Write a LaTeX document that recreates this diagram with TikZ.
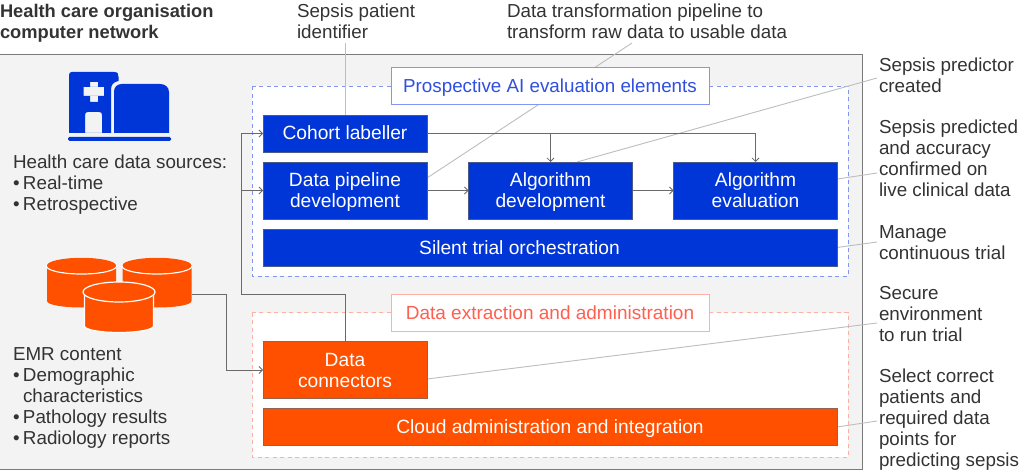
\documentclass[tikz,border=0pt]{standalone}
\usepackage{fontspec}
\setmainfont{Liberation Sans}
\usetikzlibrary{arrows.meta,backgrounds,calc}
\definecolor{panelgray}{HTML}{F3F3F3}
\definecolor{panelline}{HTML}{7A7A7A}
\definecolor{ink}{HTML}{333333}
\definecolor{aiblue}{HTML}{0035D8}
\definecolor{aibluetxt}{HTML}{2F4FE0}
\definecolor{aidash}{HTML}{8396F2}
\definecolor{emrorange}{HTML}{FF5000}
\definecolor{redtxt}{HTML}{FF5F50}
\definecolor{reddash}{HTML}{FFB0A5}
\definecolor{leader}{HTML}{BDBDBD}
\definecolor{flow}{HTML}{6A6A6A}
\newcommand{\lstr}{\rule[-6pt]{0pt}{21pt}}
\newcommand{\bstr}{\rule[-4pt]{0pt}{21pt}}
\newcommand{\bul}{\makebox[10pt][l]{•}}
\tikzset{
  x=1pt,y=-1pt,
  every node/.style={inner sep=0pt,outer sep=0pt},
  txt/.style={anchor=north west,align=left,text=ink,font=\fontsize{18.8}{21}\selectfont},
  boxtxt/.style={text=white,align=center,font=\fontsize{19.2}{21}\selectfont},
  bluebox/.style={boxtxt,fill=aiblue,draw=flow!70!aiblue,line width=.7pt},
  redbox/.style={boxtxt,fill=emrorange,draw=flow!70!emrorange,line width=.7pt},
  bluetag/.style={fill=white,draw=aidash,line width=1pt,text=aibluetxt,font=\fontsize{18.8}{21}\selectfont,minimum width=318pt,minimum height=37pt},
  redtag/.style={fill=white,draw=reddash,line width=1pt,text=redtxt,font=\fontsize{19}{21}\selectfont,minimum width=318pt,minimum height=37pt},
  bluedash/.style={fill=white,draw=aidash,line width=1pt,dash pattern=on 4pt off 3.5pt},
  reddashed/.style={fill=white,draw=reddash,line width=1pt,dash pattern=on 4pt off 3.5pt},
  leadline/.style={draw=leader,line width=.9pt},
  conn/.style={draw=flow,line width=.8pt},
  connarrow/.style={conn,-{Straight Barb[length=3.5pt,width=7pt,line width=.8pt]}},
  cyl/.style={fill=emrorange,draw=none},
  halo/.style={fill=emrorange,draw=white,line width=1.2pt},
}
\begin{document}
\begin{tikzpicture}
\useasboundingbox (0,0) rectangle (1024,470);
% boxes
\node[bluebox,minimum width=164pt,minimum height=37pt] (cohort) at (345,133.5) {\bstr Cohort labeller};
\node[bluebox,minimum width=164pt,minimum height=57pt] (pipe) at (345,190.5) {\bstr Data pipeline\\\bstr development};
\node[bluebox,minimum width=164pt,minimum height=57pt] (algdev) at (550.5,190.5) {\bstr Algorithm\\\bstr development};
\node[bluebox,minimum width=164pt,minimum height=57pt] (algeval) at (755.5,190.5) {\bstr Algorithm\\\bstr evaluation};
\node[bluebox,minimum width=574pt,minimum height=37pt] (silent) at (550,247.5) {\bstr Silent trial orchestration\hspace*{61pt}};
\node[redbox,minimum width=164pt,minimum height=57pt] (dconn) at (345,370) {\bstr Data\\\bstr connectors};
\node[redbox,minimum width=574pt,minimum height=37pt] (cloud) at (550,427) {\bstr Cloud administration and integration};
\node[bluetag] (bluelabel) at (550,86.5) {\bstr Prospective AI evaluation elements};
\node[redtag] (redlabel) at (550,312.5) {\bstr Data extraction and administration};
% outside texts
\node[anchor=north west,align=left,text=ink,font=\bfseries\fontsize{18.3}{21}\selectfont] (title) at (0,2.5) {\lstr Health care organisation\\\lstr computer network};
\node[txt] (tident) at (297,2.5) {\lstr Sepsis patient\\\lstr identifier};
\node[txt] (ttrans) at (507,2.5) {\lstr Data transformation pipeline to\\\lstr transform raw data to usable data};
\node[txt] (tpred) at (879,57) {\lstr Sepsis predictor\\\lstr created};
\node[txt] (tconf) at (879,119) {\lstr Sepsis predicted\\\lstr and accuracy\\\lstr confirmed on\\\lstr live clinical data};
\node[txt] (tmanage) at (879,223) {\lstr Manage\\\lstr continuous trial};
\node[txt] (tsecure) at (879,284) {\lstr Secure\\\lstr environment\\\lstr to run trial};
\node[txt] (tselect) at (879,367) {\lstr Select correct\\\lstr patients and\\\lstr required data\\\lstr points for\\\lstr predicting sepsis};
\node[txt] (tsources) at (13,154) {\lstr Health care data sources:\\\lstr\bul Real-time\\\lstr\bul Retrospective};
\node[txt] (temr) at (13,345) {\lstr EMR content\\\lstr\bul Demographic\\\lstr\hspace*{10pt}characteristics\\\lstr\bul Pathology results\\\lstr\bul Radiology reports};
% free ends of the leaders
\coordinate (lident) at (345,43);
\coordinate (ltrans) at (632,43);
\coordinate (lpred) at (877,78);
\coordinate (lpredb) at (577,162);
\coordinate (lconf) at (877,173);
\coordinate (lmanage) at (877,242);
\coordinate (lsecure) at (877,323);
\coordinate (lselect) at (877,421);
\begin{scope}[on background layer]
  \fill[panelgray] (0,55) rectangle (862,469.5);
  \draw[panelline,line width=1pt] (-1,55) -- (862,55) -- (862,469.5) -- (-1,469.5);
  \path[bluedash] (252,86.5) rectangle (848,276);
  \path[reddashed] (252,312.5) rectangle (848,457);
  \path[leadline] (lident) -- (cohort.north);
  \path[leadline] (ltrans) -- (pipe.east |- 0,178);
  \path[leadline] (lpred) -- (lpredb);
  \path[leadline] (lconf) -- (algeval.east |- 0,179);
  \path[leadline] (lmanage) -- (silent.east);
  \path[leadline] (lsecure) -- (dconn.east |- 0,379);
  \path[leadline] (lselect) -- (cloud.east);
\end{scope}
% connectors
\coordinate (trunk) at (241,294);
\coordinate (emrout) at (192,294);
\coordinate (emrbend) at (226,294);
\path[connarrow] (dconn.north) |- (trunk) |- (cohort.west);
\path[connarrow] (trunk |- pipe.west) -- (pipe.west);
\path[connarrow] (emrout) -- (emrbend) |- (dconn.west);
\path[connarrow] (pipe.east) -- (algdev.west);
\path[connarrow] (algdev.east) -- (algeval.west);
\path[connarrow] (cohort.east) -| (algeval.north);
\path[connarrow] (algdev.north |- cohort.east) -- (algdev.north);
% hospital icon
\fill[aiblue,even odd rule]
  (72,72) -- (114,72) .. controls (118,72) and (118.5,74) .. (118.5,77)
  -- (118.5,81) .. controls (113,82) and (111,85) .. (111,90) -- (111,133) -- (69,133) -- (69,75)
  .. controls (69,73) and (70,72) .. (72,72) -- cycle
  (90,82) rectangle (98,87) (83.5,87) rectangle (104,96) (90,96) rectangle (98,102)
  (85,133) -- (85,115) .. controls (85,113) and (86,112) .. (88,112) -- (99,112) .. controls (101,112) and (102,113) .. (102,115) -- (102,133) -- cycle;
\fill[aiblue] (114,133) -- (114,92) .. controls (114,87) and (117,84) .. (122,84) -- (160,84) .. controls (165,84) and (169,87) .. (169,92) -- (169,133) -- cycle;
\fill[aiblue,rounded corners=1.5pt] (68,137) rectangle (171,141);
% database icon
\path[cyl] (47,266) -- (47,301) .. controls (47,305) and (64,307.5) .. (81.5,307.5) .. controls (99,307.5) and (116,305) .. (116,301) -- (116,266) -- cycle;
\path[cyl] (122.5,266) -- (122.5,301) .. controls (122.5,305) and (139,307.5) .. (157,307.5) .. controls (175,307.5) and (191.5,305) .. (191.5,301) -- (191.5,266) -- cycle;
\draw[white,line width=1.2pt,fill=emrorange] (81.5,266) ellipse [x radius=35,y radius=8];
\draw[white,line width=1.2pt,fill=emrorange] (157,266) ellipse [x radius=35,y radius=8];
\fill[emrorange] (81.5,265.4) ellipse [x radius=34.5,y radius=7.6];
\fill[emrorange] (157,265.4) ellipse [x radius=34.5,y radius=7.6];
\path[halo] (84.5,290) -- (84.5,326) .. controls (84.5,330) and (102,332.5) .. (119,332.5) .. controls (136,332.5) and (153.5,330) .. (153.5,326) -- (153.5,290) -- cycle;
\path[halo] (119,292) ellipse [x radius=36,y radius=10];
\end{tikzpicture}
\end{document}
